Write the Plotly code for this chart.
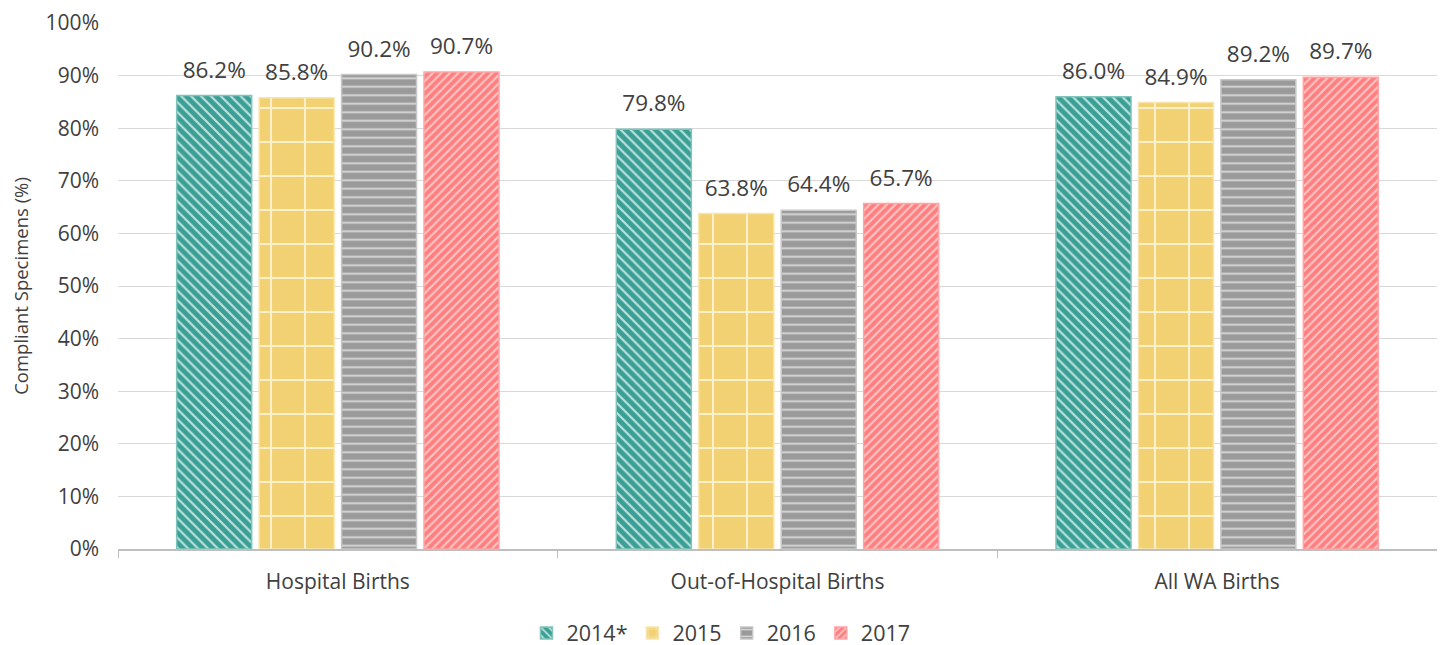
import plotly.graph_objects as go

categories = ["Hospital Births", "Out-of-Hospital Births", "All WA Births"]
years = ["2014*", "2015", "2016", "2017"]
v2014 = [86.2, 79.8, 86.0]
v2015 = [85.8, 63.8, 84.9]
v2016 = [90.2, 64.4, 89.2]
v2017 = [90.7, 65.7, 89.7]
series = [v2014, v2015, v2016, v2017]

colors = ["#3a9f95", "#f2d173", "#9a9a9a", "#ff7f80"]
fg = ["#bfe3de", "#fbf0cc", "#d9d9d9", "#ffc6c6"]
lines = ["#7fc3bb", "#f8e5ae", "#c8c8c8", "#ffa5a5"]
shapes = ["\\", "+", "-", "/"]
sizes = [7, 34, 8.5, 6]
sol = [0.3, 0.12, 0.22, 0.35]

FONT = "Open Sans"

fig = go.Figure()
for i, y in enumerate(years):
    fig.add_trace(go.Bar(
        x=categories, y=series[i], name=y, offsetgroup=str(i),
        marker=dict(color=colors[i], line=dict(color=lines[i], width=1.5),
                    pattern=dict(shape=shapes[i], fgcolor=fg[i], bgcolor=colors[i],
                                 size=sizes[i], solidity=sol[i], fillmode="replace")),
    ))
for i, y in enumerate(years):
    fig.add_trace(go.Scatter(
        x=categories, y=series[i], offsetgroup=str(i), mode="markers+text",
        marker=dict(size=18, color="rgba(0,0,0,0)"),
        text=[f"{v:.1f}%" for v in series[i]], textposition="top center",
        textfont=dict(size=22.5, color="#404040", family=FONT),
        showlegend=False, hoverinfo="skip", cliponaxis=False,
    ))

fig.update_layout(
    width=1445, height=645,
    margin=dict(l=110, r=16, t=15, b=104),
    paper_bgcolor="white", plot_bgcolor="white",
    font=dict(family=FONT, color="#595959", size=21),
    barmode="group", bargap=0.25, bargroupgap=0.09,
    scattermode="group", scattergap=0.25,
    legend=dict(orientation="h", xref="container", x=0.4934, xanchor="center", yref="container",
                y=0.031, yanchor="middle", itemwidth=30,
                font=dict(size=21.5, color="#404040"), traceorder="normal"),
    showlegend=True,
)
fig.update_yaxes(range=[0, 100], dtick=10, ticksuffix="%", showgrid=True,
                 gridcolor="#d9d9d9", gridwidth=1.2, zeroline=False, automargin=False,
                 ticklabelstandoff=18, ticklabeloverflow="allow",
                 title=dict(text="Compliant Specimens (%)", font=dict(size=18.5, color="#404040")),
                 tickfont=dict(size=21, color="#404040"))
fig.update_xaxes(showline=True, linecolor="#bfbfbf", linewidth=1.5, ticks="outside",
                 tickson="boundaries", ticklen=7, tickcolor="#bfbfbf", automargin=False,
                 ticklabelstandoff=13,
                 tickfont=dict(size=21, color="#404040"))

fig.write_html("out.html")
